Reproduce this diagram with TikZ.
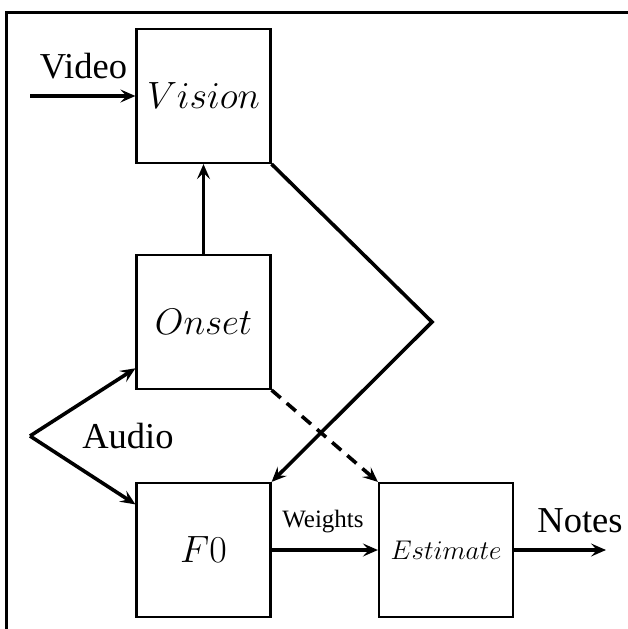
\RequirePackage{fix-cm}
\documentclass[tikz,border=0pt]{standalone}
\usepackage{fontspec}
\setmainfont{Liberation Serif}
\usetikzlibrary{arrows.meta,calc}

\tikzset{
  block/.style={draw, line width=2.2pt, minimum size=134pt, inner sep=0pt},
  flow/.style={line width=3.6pt, -{Stealth[length=15pt,width=13pt,inset=6pt]}},
  lbl/.style={anchor=base, inner sep=0pt},
}

\begin{document}
\begin{tikzpicture}[x=1pt,y=-1pt]
  \useasboundingbox (0,0) rectangle (627,629);

  % frame along the left and top edges
  \draw[line width=3pt] (6.5,640) -- (6.5,12.5) -- (640,12.5);

  % processing blocks
  \node[block] (vision)   at (203.5,96)  {\fontsize{38}{40}\selectfont $Vision$};
  \node[block] (onset)    at (203.5,322) {\fontsize{37}{40}\selectfont $Onset$};
  \node[block] (f0)       at (203.5,550) {\fontsize{38}{40}\selectfont $F0$};
  \node[block] (estimate) at (446,550)   {\fontsize{27}{29}\selectfont $Estimate$};

  % free ends of the input/output arrows
  \coordinate (videoin) at (30,96);
  \coordinate (audioin) at (30,436);
  \coordinate (bend)    at (432,322);
  \coordinate (notesout) at (606,550);

  % labels
  \node[lbl] (videolbl)   at (83.5,78) {\fontsize{36.5}{38}\selectfont Video};
  \node[lbl] (audiolbl)   at (128,448) {\fontsize{36.5}{38}\selectfont Audio};
  \node[lbl] (weightslbl) at (323,527) {\fontsize{25}{27}\selectfont Weights};
  \node[lbl] (noteslbl)   at (580,532) {\fontsize{36.5}{38}\selectfont Notes};

  % connectors
  \draw[flow] (videoin) -- (vision.west);
  \draw[flow] (onset.north) -- (vision.south);
  \draw[flow] (vision.south east) -- (bend) -- (f0.north east);
  \draw[flow, dash pattern=on 12pt off 8pt] (onset.south east) -- (estimate.north west);
  \draw[flow] (audioin) -- ($(onset.south west)!0.16!(onset.north west)$);
  \draw[flow] (audioin) -- ($(f0.north west)!0.165!(f0.south west)$);
  \draw[flow] (f0.east) -- (estimate.west);
  \draw[flow] (estimate.east) -- (notesout);
\end{tikzpicture}
\end{document}
